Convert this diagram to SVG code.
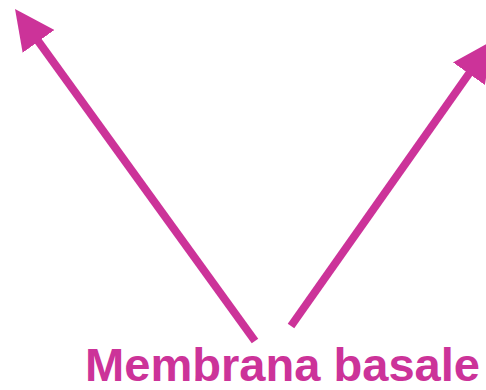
<svg xmlns="http://www.w3.org/2000/svg" width="486" height="390" viewBox="0 0 486 390">
  <style>
    .conn { stroke: #cc3399; stroke-width: 8; fill: none; }
    .label { font-family: "Comic Sans MS", "Liberation Sans", sans-serif; font-weight: bold; font-size: 46px; fill: #cc3399; }
  </style>
  <defs>
    <marker id="head" markerUnits="userSpaceOnUse" markerWidth="40" markerHeight="39" refX="10" refY="19.5" orient="auto" viewBox="0 0 40 39">
      <path d="M0,0 L40,19.5 L0,39 z" fill="#cc3399"/>
    </marker>
  </defs>
  <rect width="486" height="390" fill="#ffffff"/>
  <g id="connectors">
    <line class="conn" x1="255" y1="341" x2="32.6" y2="33.3" marker-end="url(#head)"/>
    <line class="conn" x1="291" y1="326" x2="474.7" y2="65.5" marker-end="url(#head)"/>
  </g>
  <g id="label-membrana-basale">
    <text class="label" x="85" y="381" textLength="395" lengthAdjust="spacingAndGlyphs">Membrana basale</text>
  </g>
</svg>
